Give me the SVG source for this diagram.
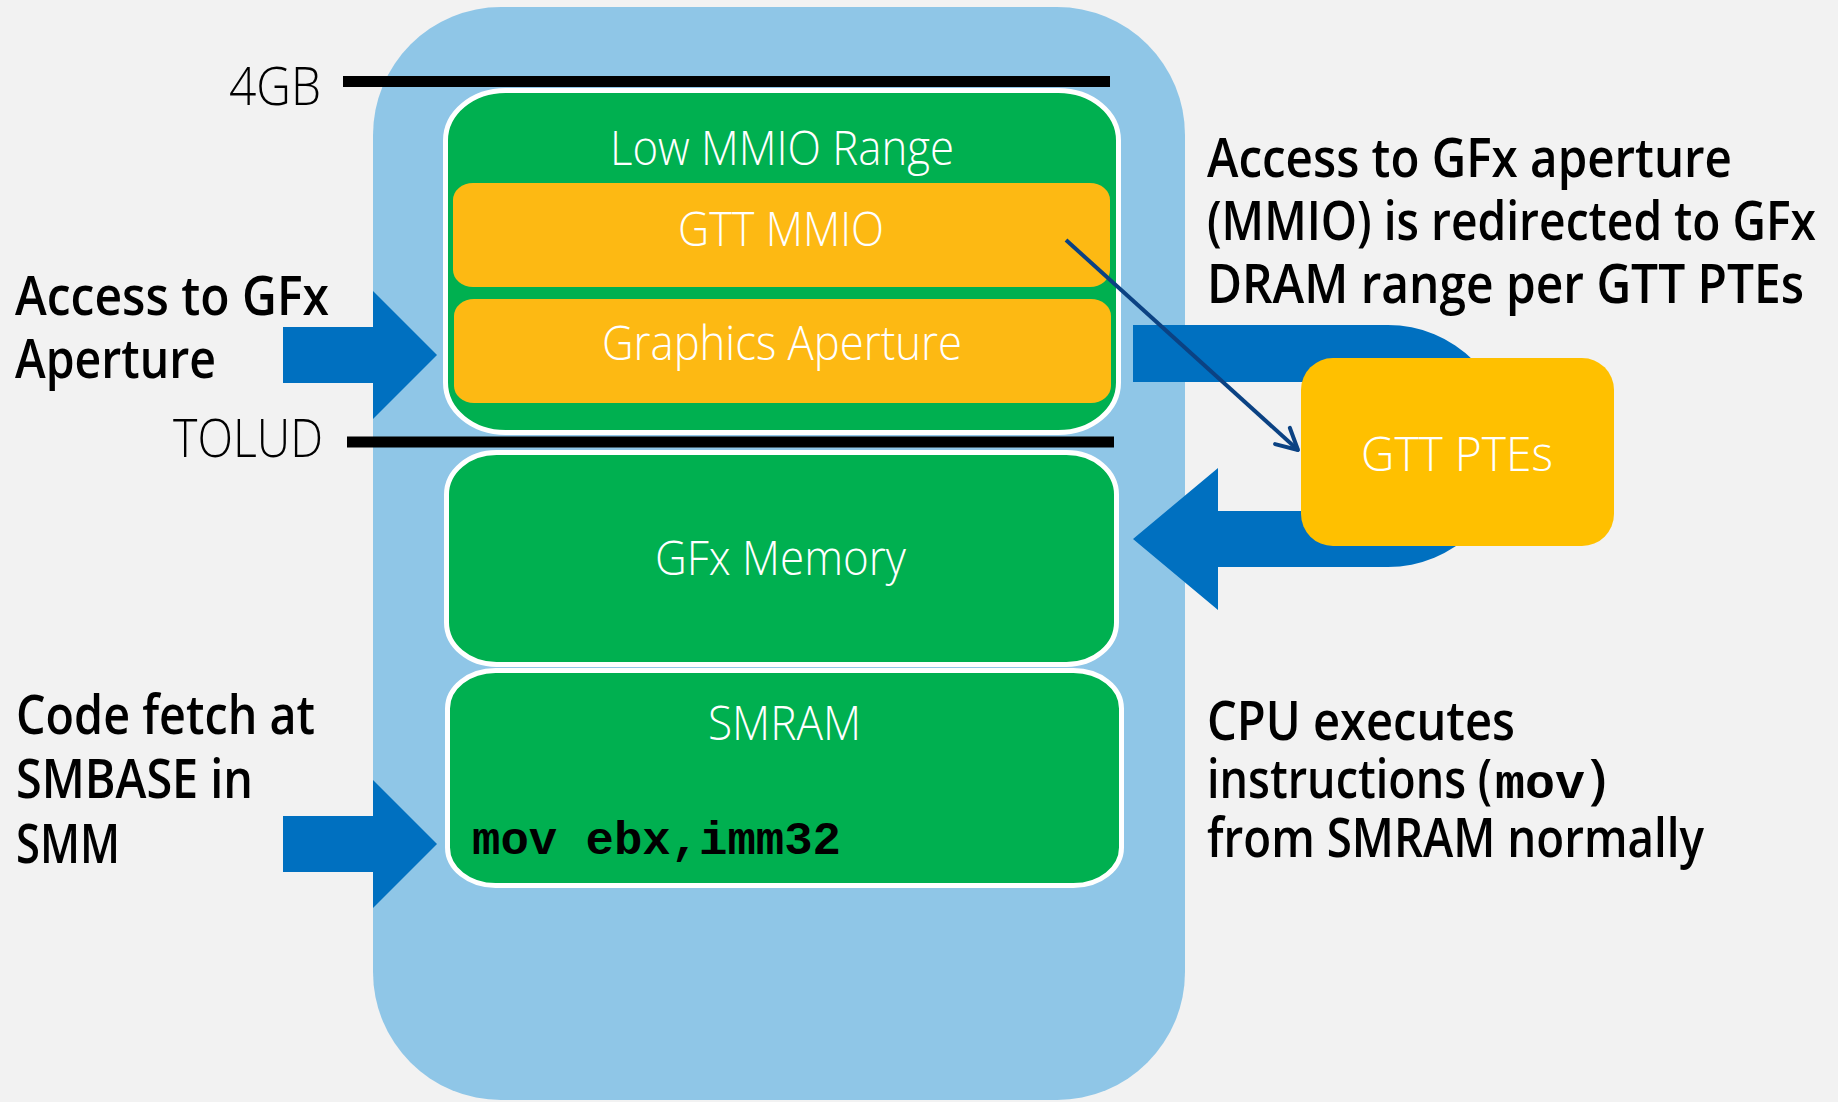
<svg xmlns="http://www.w3.org/2000/svg" width="1838" height="1102" viewBox="0 0 1838 1102">
  <defs>
    <style>
      .lbl { font-family: "Open Sans", "Liberation Sans", sans-serif; font-size: 55px; fill: #000000; font-weight: 600; }
      .axis { font-family: "Open Sans", "Liberation Sans", sans-serif; font-size: 53px; fill: #000000; font-weight: 300; }
      .wht { font-family: "Open Sans", "Liberation Sans", sans-serif; font-size: 48px; fill: #ffffff; font-weight: 300; }
      .code { font-family: "Liberation Mono", "Courier New", monospace; font-weight: bold; fill: #000000; }
      .green { fill: #00b050; stroke: #ffffff; stroke-width: 5; }
      .amber { fill: #fdb913; }
      .bigarrow { fill: #0070c0; }
      .bar { stroke: #000000; stroke-width: 11; }
    </style>
    <marker id="openhead" markerUnits="userSpaceOnUse" markerWidth="30" markerHeight="30" refX="24" refY="12" orient="auto" overflow="visible">
      <path d="M3,1 L24,12 L3,23" fill="none" stroke="#0b4283" stroke-width="4" stroke-linecap="round" stroke-linejoin="round"/>
    </marker>
  </defs>

  <rect x="0" y="0" width="1838" height="1102" fill="#f2f2f2"/>

  <g id="memory-map">
    <rect x="373" y="7" width="812" height="1093" rx="128" ry="128" fill="#8fc6e7"/>
  </g>

  <g id="bars">
    <line class="bar" x1="343" y1="81.5" x2="1110" y2="81.5"/>
    <line class="bar" x1="347" y1="442" x2="1114" y2="442"/>
    <text class="axis" x="229" y="105" textLength="92" lengthAdjust="spacingAndGlyphs">4GB</text>
    <text class="axis" x="173" y="457" textLength="150" lengthAdjust="spacingAndGlyphs">TOLUD</text>
  </g>

  <g id="connectors">
    <path id="arrow-aperture" class="bigarrow" d="M283,327 H373 V291 L437,355 L373,419 V383 H283 Z"/>
    <path id="arrow-smbase" class="bigarrow" d="M283,816 H373 V780 L437,844 L373,908 V872 H283 Z"/>
    <path id="arrow-uturn" class="bigarrow" d="M1133,325 H1388 A121,121 0 0 1 1388,567 H1218 V610 L1133,539 L1218,468 V511 H1388 A64.5,64.5 0 0 0 1388,382 H1133 Z"/>
  </g>

  <g id="low-mmio">
    <rect class="green" x="445.5" y="90.5" width="673" height="342" rx="60" ry="50"/>
    <text class="wht" x="610" y="165" textLength="344" lengthAdjust="spacingAndGlyphs">Low MMIO Range</text>
  </g>
  <g id="gtt-mmio">
    <rect class="amber" x="453" y="183" width="657" height="104" rx="20" ry="17"/>
    <text class="wht" x="678" y="246" textLength="206" lengthAdjust="spacingAndGlyphs">GTT MMIO</text>
  </g>
  <g id="graphics-aperture">
    <rect class="amber" x="454" y="299" width="657" height="104" rx="20" ry="17"/>
    <text class="wht" x="602" y="360" textLength="360" lengthAdjust="spacingAndGlyphs">Graphics Aperture</text>
  </g>
  <g id="gfx-memory">
    <rect class="green" x="446.5" y="452.5" width="670" height="212" rx="50" ry="42"/>
    <text class="wht" x="655" y="575" font-size="46" textLength="251" lengthAdjust="spacingAndGlyphs">GFx Memory</text>
  </g>
  <g id="smram">
    <rect class="green" x="447.5" y="670.5" width="674" height="215" rx="48" ry="38"/>
    <text class="wht" x="708" y="740" textLength="153" lengthAdjust="spacingAndGlyphs">SMRAM</text>
    <text class="code" x="472" y="854" font-size="47" textLength="369" lengthAdjust="spacingAndGlyphs">mov ebx,imm32</text>
  </g>
  <g id="gtt-ptes">
    <rect x="1301" y="358" width="313" height="188" rx="32" ry="32" fill="#ffc000"/>
    <text class="wht" x="1361" y="471" textLength="192" lengthAdjust="spacingAndGlyphs">GTT PTEs</text>
  </g>

  <g id="connector-gtt">
    <line x1="1066" y1="240" x2="1298" y2="450" stroke="#0b4283" stroke-width="4" marker-end="url(#openhead)"/>
  </g>

  <g id="label-left-top">
    <text class="lbl" x="15" y="315" textLength="314" lengthAdjust="spacingAndGlyphs">Access to GFx</text>
    <text class="lbl" x="15" y="378" textLength="201" lengthAdjust="spacingAndGlyphs">Aperture</text>
  </g>
  <g id="label-left-bottom">
    <text class="lbl" x="16" y="734" textLength="299" lengthAdjust="spacingAndGlyphs">Code fetch at</text>
    <text class="lbl" x="16" y="798" textLength="237" lengthAdjust="spacingAndGlyphs">SMBASE in</text>
    <text class="lbl" x="16" y="863" textLength="104" lengthAdjust="spacingAndGlyphs">SMM</text>
  </g>
  <g id="label-right-top">
    <text class="lbl" x="1207" y="177" textLength="525" lengthAdjust="spacingAndGlyphs">Access to GFx aperture</text>
    <text class="lbl" x="1207" y="240" textLength="609" lengthAdjust="spacingAndGlyphs">(MMIO) is redirected to GFx</text>
    <text class="lbl" x="1207" y="303" textLength="597" lengthAdjust="spacingAndGlyphs">DRAM range per GTT PTEs</text>
  </g>
  <g id="label-right-bottom">
    <text class="lbl" x="1207" y="740" textLength="308" lengthAdjust="spacingAndGlyphs">CPU executes</text>
    <text class="lbl" x="1207" y="798" textLength="285" lengthAdjust="spacingAndGlyphs">instructions (</text>
    <text class="code" x="1495" y="798" font-size="48" textLength="90" lengthAdjust="spacingAndGlyphs">mov</text>
    <text class="lbl" x="1589" y="798">)</text>
    <text class="lbl" x="1207" y="857" textLength="497" lengthAdjust="spacingAndGlyphs">from SMRAM normally</text>
  </g>
</svg>
